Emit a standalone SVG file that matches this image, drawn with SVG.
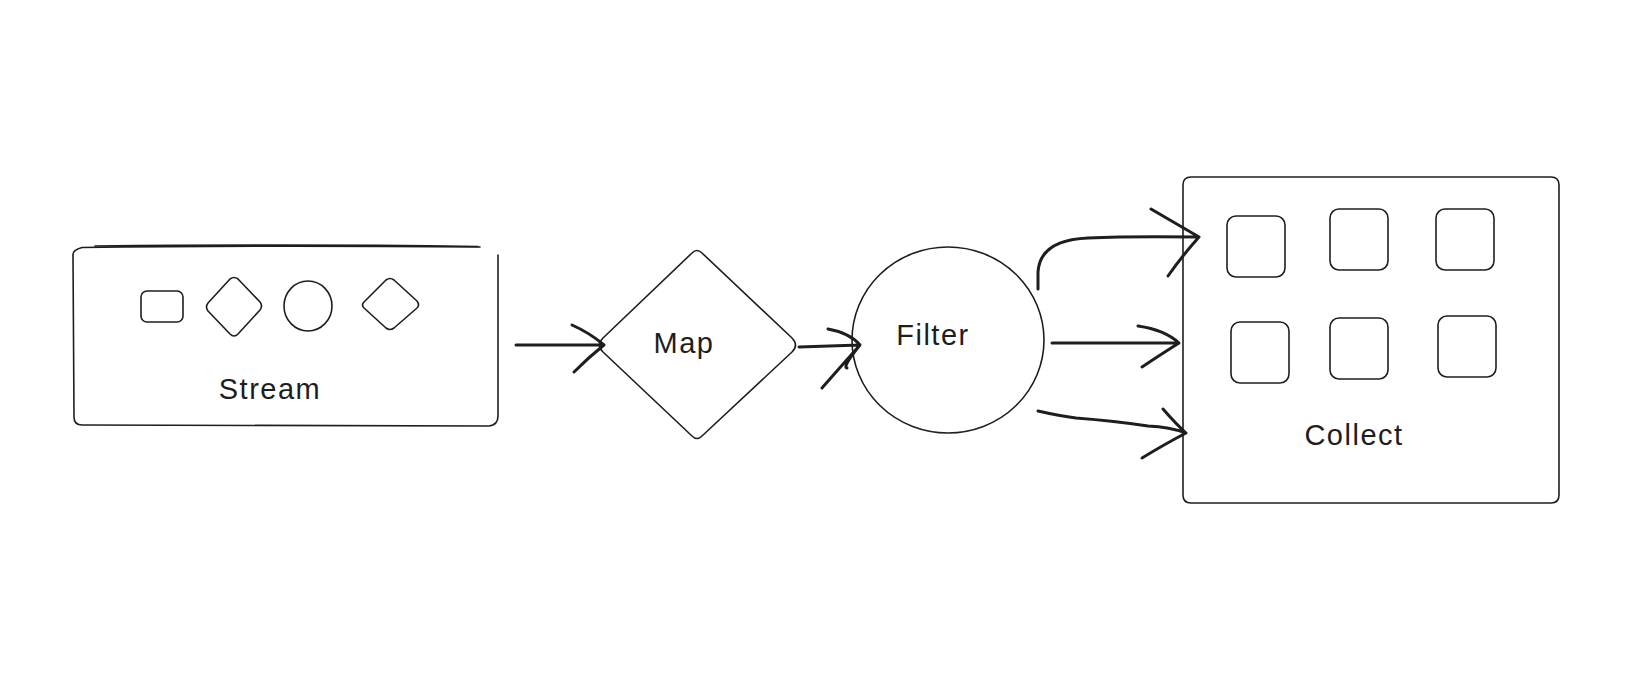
<svg xmlns="http://www.w3.org/2000/svg" width="1636" height="682" viewBox="0 0 1636 682">
<style>
.s{fill:none;stroke:#1e1e1e;stroke-width:1.6;stroke-linecap:round;stroke-linejoin:round}
.a{fill:none;stroke:#1e1e1e;stroke-width:3;stroke-linecap:round;stroke-linejoin:round}
.t{font-family:"Liberation Sans",Arial,sans-serif;font-size:29px;letter-spacing:1.5px;fill:#1e1e1e;text-anchor:middle}
</style>
<rect width="1636" height="682" fill="#ffffff"/>
<g id="stream">
<path class="s" d="M82 247.5 Q260 245 480 247 M73 256 Q72 250 82 247.5 M73 256 L74 417 Q74 425 82 425 L489 426 Q498 425 498 416 L498 255"/>
<path class="s" d="M95 246 Q300 244 478 246.5" stroke-width="1"/>
<rect class="s" x="141" y="291" width="42" height="31" rx="6"/>
<path class="s" d="M230 279 Q234 276 238 279 L260 302 Q263 306 260 310 L238 334 Q234 338 230 334 L208 311 Q205 307 208 303 Z"/>
<ellipse class="s" cx="308" cy="306" rx="24" ry="25"/>
<path class="s" d="M386 280 Q390 277 394 280 L417 301 Q420 305 417 308 L394 328 Q390 331 386 328 L364 308 Q361 305 364 302 Z"/>
<text class="t" x="270" y="399">Stream</text>
</g>
<g id="map">
<path class="s" d="M692 253 Q697 248 702 253 L792 338 Q799 345 792 352 L702 436 Q697 441 692 436 L603 352 Q596 345 603 338 Z"/>
<text class="t" x="684" y="353">Map</text>
</g>
<g id="filter">
<ellipse class="s" cx="948" cy="340" rx="96" ry="93"/>
<text class="t" x="933" y="345">Filter</text>
</g>
<g id="collect">
<path class="s" d="M1191 177 L1551 177 Q1559 177 1559 185 L1559 495 Q1559 503 1551 503 L1191 503 Q1183 503 1183 495 L1183 185 Q1183 177 1191 177 Z"/>
<rect class="s" x="1227" y="216" width="58" height="61" rx="9"/>
<rect class="s" x="1330" y="209" width="58" height="61" rx="9"/>
<rect class="s" x="1436" y="209" width="58" height="61" rx="9"/>
<rect class="s" x="1231" y="322" width="58" height="61" rx="9"/>
<rect class="s" x="1330" y="318" width="58" height="61" rx="9"/>
<rect class="s" x="1438" y="316" width="58" height="61" rx="9"/>
<text class="t" x="1354" y="445">Collect</text>
</g>
<g id="connectors">
<path class="a" d="M516 345 L604 345 M572 325 Q590 333 604 345 Q589 357 574 372"/>
<path class="a" d="M799 347 L860 345 M828 329 Q850 333 860 345 Q842 367 847 368 M860 345 Q836 372 822 388"/>
<path class="a" d="M1038 289 L1038 272 Q1040 240 1088 238 Q1130 236 1199 237 M1151 209 Q1180 226 1199 237 Q1182 256 1168 276"/>
<path class="a" d="M1052 343 L1179 343 M1138 326 Q1165 330 1179 343 Q1163 353 1142 367"/>
<path class="a" d="M1038 411 Q1060 416 1076 418 Q1115 421 1148 426 Q1170 427 1186 433 M1163 409 Q1177 425 1186 433 Q1165 444 1142 458"/>
</g>
</svg>
